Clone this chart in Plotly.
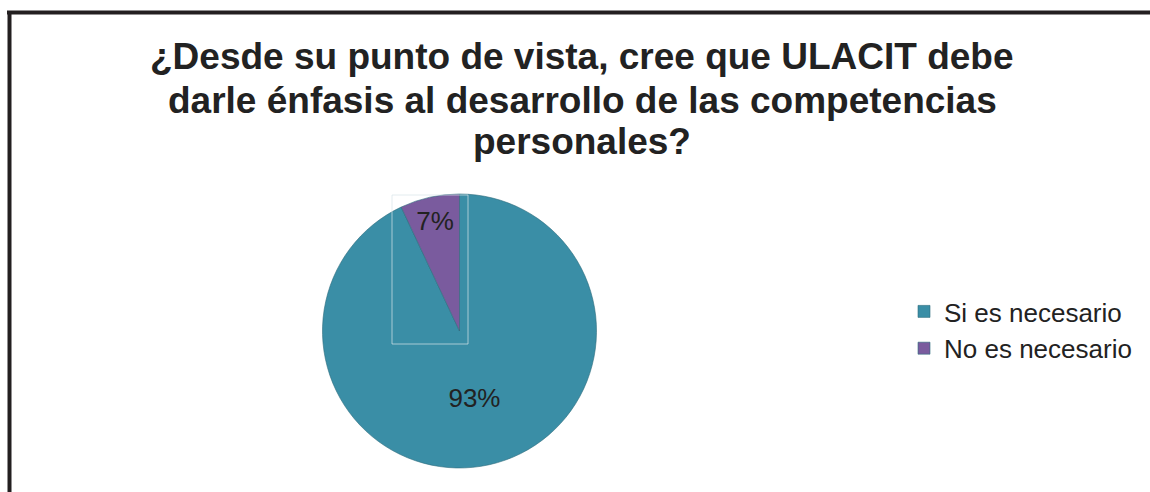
import plotly.graph_objects as go

title_lines = ["¿Desde su punto de vista, cree que ULACIT debe",
               "darle énfasis al desarrollo de las competencias",
               "personales?"]
labels = ["Si es necesario", "No es necesario"]
values = [93, 7]
colors = ["#3a8ea6", "#7a5b9e"]

W, H = 1150, 492
fig = go.Figure()
fig.add_trace(go.Pie(
    labels=labels, values=values, sort=False, direction="clockwise", rotation=0,
    marker=dict(colors=colors, line=dict(color="#2d6b7c", width=0.6)),
    texttemplate="%{percent:.0%}", textposition="inside",
    insidetextorientation="horizontal",
    textfont=dict(family="Liberation Sans, Arial", size=26, color="#222222"),
    domain=dict(x=[322/W, 597/W], y=[1-468/H, 1-194/H]),
    hoverinfo="label+percent",
))

title_y = [57, 100, 142]
annotations = [dict(text="<b>" + line + "</b>", x=582/W, y=1-yc/H,
                    xref="paper", yref="paper", xanchor="center", yanchor="middle",
                    showarrow=False, align="center",
                    font=dict(family="Liberation Sans, Arial", size=37, color="#222222"))
               for line, yc in zip(title_lines, title_y)]

fig.update_layout(
    width=W, height=H, margin=dict(l=0, r=0, t=0, b=0, autoexpand=False),
    paper_bgcolor="white", plot_bgcolor="white",
    showlegend=True,
    legend=dict(x=904/W, y=1-288/H, xanchor="left", yanchor="top",
                font=dict(family="Liberation Sans, Arial", size=26, color="#222222"),
                itemwidth=30, bgcolor="rgba(0,0,0,0)"),
    annotations=annotations,
    shapes=[
        dict(type="line", xref="paper", yref="paper", x0=7/W, x1=1, y0=1-12.5/H, y1=1-12.5/H,
             line=dict(color="#231f20", width=4)),
        dict(type="line", xref="paper", yref="paper", x0=9.5/W, x1=9.5/W, y0=0, y1=1-11/H,
             line=dict(color="#231f20", width=4)),
        dict(type="rect", xref="paper", yref="paper", x0=392/W, x1=468/W, y0=1-344/H, y1=1-195/H,
             line=dict(color="rgba(215,228,232,0.7)", width=1)),
    ],
)
fig.write_html("out.html", config={"displayModeBar": False},
               post_script="document.body.style.margin='0';document.body.style.overflow='hidden';")
